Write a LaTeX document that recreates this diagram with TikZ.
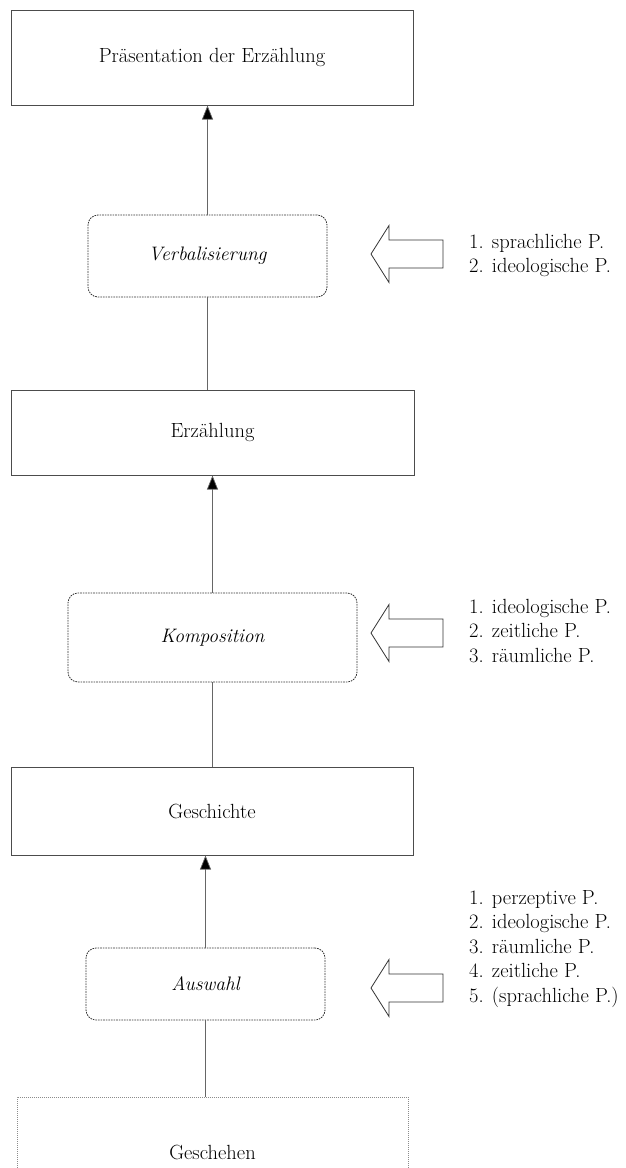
\documentclass[tikz,border=0pt]{standalone}
\usepackage{fontspec}
\usetikzlibrary{arrows.meta}

\tikzset{
  x=1pt, y=-1pt,
  txt/.style={font=\fontsize{20.5}{24.5}\selectfont, inner sep=0pt},
  solidbox/.style={txt, draw=black!70, line width=1pt},
  stagebox/.style={txt, draw=black!80, line width=0.8pt,
                   dash pattern=on 1.6pt off 1pt, rounded corners=10pt,
                   font=\fontsize{19.5}{24.5}\selectfont\itshape},
  basebox/.style={txt, draw=black!45, line width=1pt, dash pattern=on 1.2pt off 0.8pt},
  link/.style={draw=black!60, line width=0.7pt},
  uplink/.style={link, -{Triangle[length=14pt,width=11pt,fill=black]}},
  hollow/.style={draw=black!80, line width=0.8pt, fill=white, line join=miter},
  plist/.style={txt, align=left, anchor=west},
}

\begin{document}
\begin{tikzpicture}
\useasboundingbox (0,0) rectangle (626,1168);
\clip (0,0) rectangle (626,1168);

% levels of the narrative
\node[solidbox, minimum width=402pt, minimum height=95pt] (praes) at (212,57.5) {Präsentation der Erzählung};
\node[stagebox, minimum width=239pt, minimum height=82pt] (verb) at (207.5,256) {Verbalisierung};
\node[solidbox, minimum width=403pt, minimum height=85pt] (erz) at (212.5,432.5) {Erzählung};
\node[stagebox, minimum width=289pt, minimum height=89pt] (komp) at (212.5,637.5) {Komposition};
\node[solidbox, minimum width=402pt, minimum height=88pt] (gesch) at (212,811) {Geschichte};
\node[stagebox, minimum width=239pt, minimum height=72pt] (ausw) at (205.5,984) {Auswahl};
\node[basebox, minimum width=391pt, minimum height=110pt] (geschehen) at (212.5,1152) {Geschehen};

% connectors between the levels
\draw[uplink] (verb.north) -- (verb.north |- praes.south);
\draw[link] (verb.south) -- (verb.south |- erz.north);
\draw[uplink] (komp.north) -- (komp.north |- erz.south);
\draw[link] (komp.south) -- (komp.south |- gesch.north);
\draw[uplink] (ausw.north) -- (ausw.north |- gesch.south);
\draw[link] (ausw.south) -- (ausw.south |- geschehen.north);

% hollow arrows feeding the perspectives into each stage
\foreach \yc in {254, 633, 988}{
  \begin{scope}[shift={(0,\yc)}]
    \draw[hollow] (371,0) -- (389,-28.5) -- (389,-14) -- (443,-14)
                  -- (443,14) -- (389,14) -- (389,28.5) -- cycle;
  \end{scope}
}

% perspective lists
\node[plist] (lverb) at (469,255.5) {1. sprachliche P.\\2. ideologische P.};
\node[plist] (lkomp) at (469,631) {\addfontfeatures{FakeBold=1}1. ideologische P.\\2. zeitliche P.\\3. räumliche P.};
\node[plist] (lausw) at (469,949) {1. perzeptive P.\\2. ideologische P.\\3. räumliche P.\\4. zeitliche P.\\5. (sprachliche P.)};
\end{tikzpicture}
\end{document}
